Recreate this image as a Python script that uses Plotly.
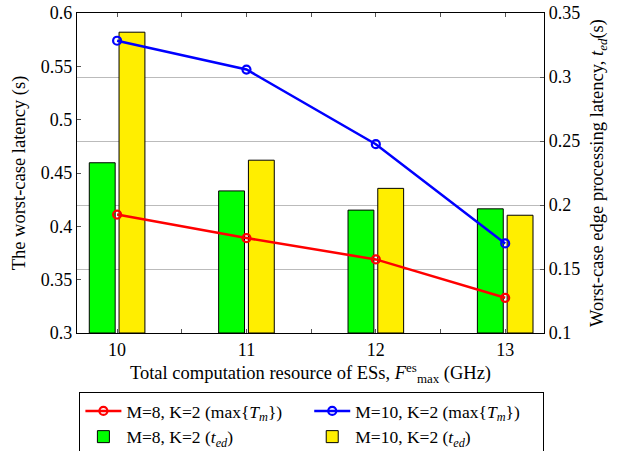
import plotly.graph_objects as go

categories = [10, 11, 12, 13]
red_line = [0.411, 0.389, 0.369, 0.333]     # M=8 max{T_m}
blue_line = [0.574, 0.547, 0.477, 0.384]    # M=10 max{T_m}
green_bar = [0.233, 0.211, 0.196, 0.197]    # M=8 t_ed
yellow_bar = [0.335, 0.235, 0.213, 0.192]   # M=10 t_ed
x_tickvals = [10, 11, 12, 13]
x_ticktext = ["10", "11", "12", "13"]
bar_base = 0.1

FONT = "Liberation Serif"

fig = go.Figure()
fig.add_trace(go.Scatter(
    x=categories, y=red_line, yaxis="y2", mode="lines+markers",
    name="M=8, K=2 (max{<i>T<sub>m</sub></i>})",
    line=dict(color="#ff0000", width=2.5),
    marker=dict(symbol="circle-open", size=8, color="#ff0000", line=dict(width=2.2)),
))
fig.add_trace(go.Scatter(
    x=categories, y=blue_line, yaxis="y2", mode="lines+markers",
    name="M=10, K=2 (max{<i>T<sub>m</sub></i>})",
    line=dict(color="#0000ff", width=2.5),
    marker=dict(symbol="circle-open", size=8, color="#0000ff", line=dict(width=2.2)),
))
fig.add_trace(go.Bar(
    x=categories, y=[v - bar_base for v in green_bar], base=bar_base,
    yaxis="y", width=0.2, offset=-0.215,
    name="M=8, K=2 (<i>t<sub>ed</sub></i>)",
    marker=dict(color="#00ff00", line=dict(color="black", width=1)),
))
fig.add_trace(go.Bar(
    x=categories, y=[v - bar_base for v in yellow_bar], base=bar_base,
    yaxis="y", width=0.2, offset=0.015,
    name="M=10, K=2 (<i>t<sub>ed</sub></i>)",
    marker=dict(color="#ffee00", line=dict(color="black", width=1)),
))

fig.update_layout(
    width=628, height=451,
    margin=dict(l=77, r=84, t=13, b=118),
    paper_bgcolor="white", plot_bgcolor="white",
    font=dict(family=FONT, size=16, color="black"),
    barmode="overlay",
    showlegend=True,
    xaxis=dict(
        range=[9.69, 13.30], tickvals=x_tickvals, ticktext=x_ticktext,
        ticks="inside", ticklen=4, tickcolor="#555", showgrid=False,
        minor=dict(dtick=0.5, tick0=10, ticks="inside", ticklen=4, tickcolor="#555", showgrid=False),
        showline=True, linecolor="black", linewidth=1.2, mirror="ticks",
        tickfont=dict(family=FONT, size=18),
        title=dict(text="Total computation resource of ESs, <i>F</i><sup>es</sup><sub>max</sub> (GHz)",
                   standoff=5, font=dict(family=FONT, size=18.5)),
        zeroline=False, automargin=False,
    ),
    yaxis=dict(
        side="right", range=[0.1, 0.35], dtick=0.05,
        ticks="inside", ticklen=4, tickcolor="#555",
        showgrid=True, gridcolor="#bbbbbb", gridwidth=1,
        showline=True, linecolor="black", linewidth=1.2,
        tickfont=dict(family=FONT, size=18),
        title=dict(text="Worst-case edge processing latency, <i>t<sub>ed</sub></i>(s)", standoff=10,
                   font=dict(family=FONT, size=18.5)),
        zeroline=False, automargin=False,
    ),
    yaxis2=dict(
        side="left", overlaying="y", range=[0.3, 0.6], dtick=0.05,
        ticks="inside", ticklen=4, tickcolor="#555", showgrid=False,
        showline=True, linecolor="black", linewidth=1.2,
        tickfont=dict(family=FONT, size=18),
        title=dict(text="The worst-case latency (s)", standoff=10, font=dict(family=FONT, size=18.5)),
        zeroline=False, automargin=False,
    ),
    legend=dict(
        orientation="h", x=0.503, xanchor="center",
        yref="container", y=(451 - 392) / 451, yanchor="top",
        bordercolor="black", borderwidth=1, bgcolor="white",
        entrywidth=0.49, entrywidthmode="fraction", traceorder="normal",
        font=dict(family=FONT, size=17.5), itemwidth=36, tracegroupgap=0,
    ),
)

fig.write_html("out.html")
